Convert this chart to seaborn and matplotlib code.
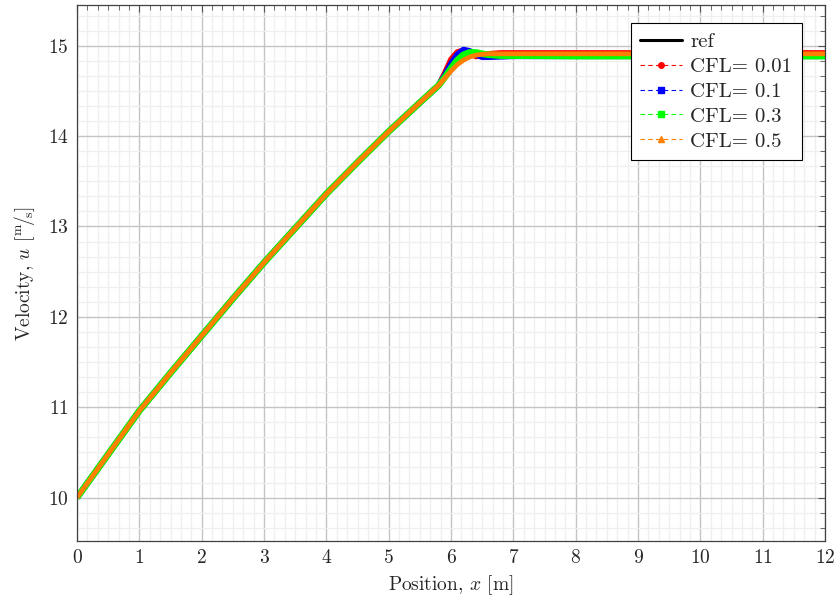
import numpy as np
import pandas as pd
import matplotlib
matplotlib.use("Agg")
import matplotlib.pyplot as plt
from matplotlib.lines import Line2D
from matplotlib.ticker import MultipleLocator, AutoMinorLocator
import seaborn as sns

# Position along the channel [m]
x_pos = [0.0, 0.5, 1.0, 1.5, 2.0, 2.5, 3.0, 3.5, 4.0, 4.5, 5.0, 5.5, 5.8, 5.9,
         6.0, 6.1, 6.2, 6.3, 6.4, 6.5, 6.6, 6.8, 7.0, 8.0, 9.0, 10.0, 11.0, 12.0]

# Shared rising branch up to x = 5.8
rise = [10.00, 10.48, 10.96, 11.38, 11.79, 12.20, 12.60, 12.98, 13.36,
        13.71, 14.05, 14.37, 14.56]

u_ref = rise + [14.64, 14.72, 14.79, 14.86, 14.91, 14.91, 14.91, 14.91, 14.91,
                14.91, 14.91, 14.91, 14.91, 14.91, 14.91]
u_cfl001 = rise + [14.70, 14.85, 14.93, 14.95, 14.92, 14.88, 14.89, 14.91,
                   14.92, 14.92, 14.92, 14.92, 14.92, 14.92, 14.92]
u_cfl01 = rise + [14.67, 14.80, 14.90, 14.955, 14.94, 14.90, 14.875, 14.875,
                  14.88, 14.885, 14.885, 14.885, 14.885, 14.885, 14.885]
u_cfl03 = rise + [14.65, 14.75, 14.84, 14.90, 14.925, 14.925, 14.91, 14.90,
                  14.89, 14.89, 14.885, 14.885, 14.885, 14.885, 14.885]
u_cfl05 = rise + [14.64, 14.72, 14.79, 14.84, 14.875, 14.895, 14.905, 14.91,
                  14.91, 14.91, 14.91, 14.91, 14.91, 14.91, 14.91]

series_labels = ["ref", "CFL= 0.01", "CFL= 0.1", "CFL= 0.3", "CFL= 0.5"]
series_values = [u_ref, u_cfl001, u_cfl01, u_cfl03, u_cfl05]
series_colors = ["black", "#ff0000", "#0000ff", "#00ff00", "#ff8000"]
series_widths = [1.5, 4.0, 4.4, 4.8, 3.4]
series_markers = [None, "o", "s", "s", "^"]

sns.set_theme(style="white")
plt.rcParams.update({
    "font.family": "serif",
    "font.serif": ["cmr10", "DejaVu Serif"],
    "mathtext.fontset": "cm",
    "axes.formatter.use_mathtext": True,
    "font.size": 14,
})

fig = plt.figure(figsize=(8.38, 6.03), dpi=100)
ax = fig.add_axes([0.0919, 0.1028, 0.8926, 0.8889])

for label, vals, col, lw in zip(series_labels, series_values,
                                series_colors, series_widths):
    df = pd.DataFrame({"x": x_pos, "u": vals})
    sns.lineplot(data=df, x="x", y="u", ax=ax, color=col, linewidth=lw,
                 legend=False, sort=False, estimator=None,
                 solid_capstyle="butt", solid_joinstyle="round")

ax.set_xlim(0, 12)
ax.set_ylim(9.52, 15.45)
ax.xaxis.set_major_locator(MultipleLocator(1))
ax.yaxis.set_major_locator(MultipleLocator(1))
ax.xaxis.set_minor_locator(AutoMinorLocator(6))
ax.yaxis.set_minor_locator(AutoMinorLocator(6))

ax.grid(which="major", color="#c4c4c4", linewidth=1.0)
ax.grid(which="minor", color="#efefef", linewidth=0.9)
ax.set_axisbelow(True)

ax.tick_params(which="both", direction="in", top=True, right=True,
               color="#555555", labelsize=14, pad=6)
ax.tick_params(which="major", length=5, width=0.8)
ax.tick_params(which="minor", length=3.5, width=0.6)
for sp in ax.spines.values():
    sp.set_color("#404040")
    sp.set_linewidth(0.9)

ax.set_xlabel(r"Position, $x$ [m]", fontsize=14, labelpad=4)
ax.set_ylabel(r"Velocity, $u$ [$^{\mathrm{m}}\!/\!_{\mathrm{s}}$]",
              fontsize=14, labelpad=8)

handles = [Line2D([], [], color="black", linewidth=2.2)]
for col, mk in zip(series_colors[1:], series_markers[1:]):
    handles.append(Line2D([], [], color=col, linewidth=0.8,
                          linestyle=(0, (4, 3)), marker=mk, markersize=4,
                          markerfacecolor=col, markeredgecolor=col))
leg = ax.legend(handles, series_labels, loc="upper right",
                bbox_to_anchor=(0.969, 0.966), borderaxespad=0,
                fontsize=15, frameon=True, fancybox=False, framealpha=1,
                edgecolor="black", handlelength=2.0, handletextpad=0.4,
                labelspacing=0.3, borderpad=0.45, numpoints=1)
leg.get_frame().set_linewidth(0.8)

fig.savefig("out.png", dpi=100)
